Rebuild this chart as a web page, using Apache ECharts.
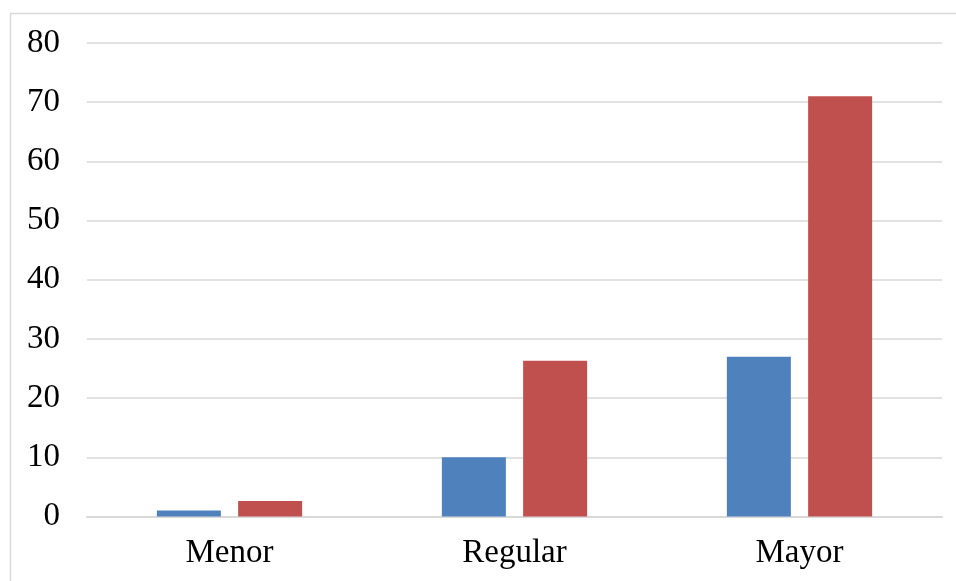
<!DOCTYPE html>
<html>
<head>
<meta charset="utf-8">
<script src="https://cdn.jsdelivr.net/npm/echarts@6/dist/echarts.min.js"></script>
<style>
  html, body { margin: 0; padding: 0; background: #fff; }
  #chart { width: 956px; height: 581px; }
</style>
</head>
<body>
<div id="chart"></div>
<script>
// Categories and values for the two series
const categories = ['Menor', 'Regular', 'Mayor'];
const seriesA = [1.0, 10.0, 27.0];
const seriesB = [2.6, 26.3, 71.0];
const yTicks = { min: 0, max: 80, interval: 10 };

const FONT = '"Liberation Serif", "Times New Roman", serif';

const chart = echarts.init(document.getElementById('chart'), null, { renderer: 'canvas' });

chart.setOption({
  animation: false,
  backgroundColor: '#ffffff',
  graphic: [
    { type: 'line', shape: { x1: 10, y1: 13.5, x2: 956, y2: 13.5 }, style: { stroke: '#d9d9d9', lineWidth: 1.5 } },
    { type: 'line', shape: { x1: 10.5, y1: 13, x2: 10.5, y2: 581 }, style: { stroke: '#d9d9d9', lineWidth: 1.5 } }
  ],
  grid: { left: 87, right: 14, top: 43, bottom: 64.5, containLabel: false },
  xAxis: {
    type: 'category',
    data: categories,
    axisTick: { show: false },
    axisLine: { show: true, lineStyle: { color: '#d9d9d9', width: 2 } },
    axisLabel: { color: '#000', fontFamily: FONT, fontSize: 33, margin: 20 }
  },
  yAxis: {
    type: 'value',
    min: yTicks.min,
    max: yTicks.max,
    interval: yTicks.interval,
    axisLine: { show: false },
    axisTick: { show: false },
    splitLine: { lineStyle: { color: '#d9d9d9', width: 1.5 } },
    axisLabel: { color: '#000', fontFamily: FONT, fontSize: 33, margin: 27 }
  },
  series: [
    {
      type: 'bar',
      data: seriesA,
      barWidth: 64,
      barGap: '27%',
      itemStyle: { color: '#4f81bd' }
    },
    {
      type: 'bar',
      data: seriesB,
      barWidth: 64,
      itemStyle: { color: '#c0504d' }
    }
  ]
});
</script>
</body>
</html>
